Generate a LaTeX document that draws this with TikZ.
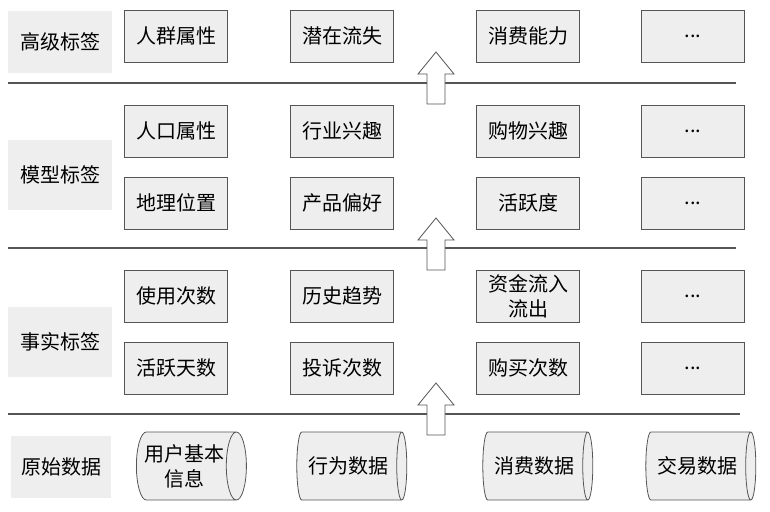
\documentclass[tikz,border=0pt]{standalone}
\usepackage{fontspec}
\setmainfont{Noto Sans CJK SC}
\usetikzlibrary{shapes.geometric}

\definecolor{boxgray}{HTML}{EEEEEE}
\definecolor{edgegray}{HTML}{555555}

\tikzset{
  tag/.style={draw=edgegray, fill=boxgray, thick, minimum width=103, minimum height=52,
    align=center, font=\fontsize{20}{25}\selectfont},
  layer/.style={fill=boxgray, minimum width=104, minimum height=62,
    font=\fontsize{20}{25}\selectfont},
  store/.style={cylinder, draw=edgegray, fill=boxgray, thick, aspect=0.4, inner xsep=0,
    minimum width=68, minimum height=110, align=center, font=\fontsize{20}{25}\selectfont},
  sep/.style={draw=edgegray, line width=1.4pt},
  blockarrow/.style={draw=edgegray, fill=white, thick},
}

% up arrow: centre x, bottom y
\newcommand{\uparr}[2]{
  \draw[blockarrow] (#1-9,#2) -- (#1+9,#2) -- (#1+9,#2-30) -- (#1+18,#2-30)
    -- (#1,#2-52) -- (#1-18,#2-30) -- (#1-9,#2-30) -- cycle;
}

\begin{document}
\begin{tikzpicture}[x=1pt, y=-1pt]
  \useasboundingbox (0,0) rectangle (770,511);

  % layer labels
  \node[layer] (high) at (60,42) {高级标签};
  \node[layer, minimum height=70] (model) at (60,175) {模型标签};
  \node[layer, minimum height=70] (fact) at (60,342) {事实标签};
  \node[layer, minimum width=100] (raw) at (61,467) {原始数据};

  % tags
  \node[tag] (h1) at (176,36) {人群属性};
  \node[tag] (h2) at (342,36) {潜在流失};
  \node[tag] (h3) at (528,36) {消费能力};
  \node[tag] (h4) at (693,36) {...};

  \node[tag] (m1) at (176,131) {人口属性};
  \node[tag] (m2) at (342,131) {行业兴趣};
  \node[tag] (m3) at (528,131) {购物兴趣};
  \node[tag] (m4) at (693,131) {...};
  \node[tag] (m5) at (176,203) {地理位置};
  \node[tag] (m6) at (342,203) {产品偏好};
  \node[tag] (m7) at (528,203) {活跃度};
  \node[tag] (m8) at (693,203) {...};

  \node[tag] (f1) at (176,296) {使用次数};
  \node[tag] (f2) at (342,296) {历史趋势};
  \node[tag] (f3) at (528,296) {资金流入\\流出};
  \node[tag] (f4) at (693,296) {...};
  \node[tag] (f5) at (176,368) {活跃天数};
  \node[tag] (f6) at (342,368) {投诉次数};
  \node[tag] (f7) at (528,368) {购买次数};
  \node[tag] (f8) at (693,368) {...};

  % raw data stores
  \node[store] (r1) at (184,466) {用户基本\\信息};
  \node[store] (r2) at (348,466) {行为数据};
  \node[store] (r3) at (534,466) {消费数据};
  \node[store] (r4) at (697,466) {交易数据};

  % separators
  \coordinate (s1a) at (8,83);  \coordinate (s1b) at (736,83);
  \coordinate (s2a) at (8,248); \coordinate (s2b) at (736,248);
  \coordinate (s3a) at (8,414); \coordinate (s3b) at (740,414);
  \draw[sep] (s1a) -- (s1b);
  \draw[sep] (s2a) -- (s2b);
  \draw[sep] (s3a) -- (s3b);

  \uparr{436}{104}
  \uparr{436}{270}
  \uparr{436}{435}
\end{tikzpicture}
\end{document}
